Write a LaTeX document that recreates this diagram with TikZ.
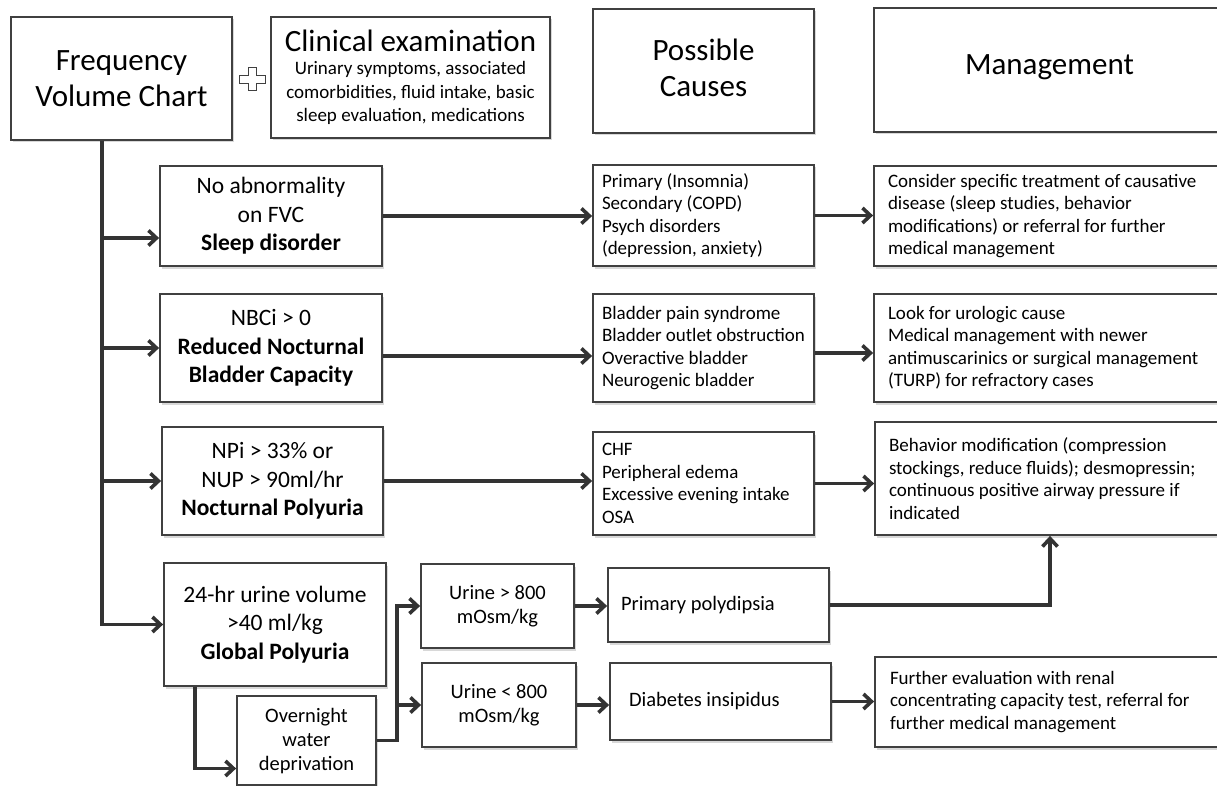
\documentclass[tikz,border=0pt]{standalone}
\usepackage{fontspec}
\setmainfont{Carlito}
\usetikzlibrary{
  arrows.meta,
  shadows
}
\tikzset{
  box/.style={draw=boxline,line width=1.8pt,fill=white,inner sep=0pt,
    drop shadow={shadow xshift=1.5pt,shadow yshift=-2.5pt,fill=black!30,opacity=.5}},
  box size/.style 2 args={minimum width=#1,minimum height=#2},
  head box/.style={box,align=center,font=\fontsize{31}{36}\selectfont},
  test box/.style={box,align=center,font=\fontsize{23.5}{28.5}\selectfont},
  small box/.style={box,align=center,font=\fontsize{20.5}{24}\selectfont},
  list box/.style={box,align=flush left,inner xsep=9pt,font=\fontsize{19}{22.5}\selectfont},
  flow/.style={draw=flowline,line width=3.6pt,-{Straight Barb[length=8pt,width=15pt]}},
}
\colorlet{boxline}{black!75}
\colorlet{flowline}{black!80}

\begin{document}
\begin{tikzpicture}[x=1pt,y=-1pt]
\useasboundingbox (0,0) rectangle (1217,786);
% top row
\node[head box,box size={221}{123}] (fvc) at (121.5,78.5) {Frequency\\Volume Chart};
\node[head box,box size={279}{121},font=\fontsize{19}{23.5}\selectfont] (clin) at (410.5,77.5)
  {{\fontsize{31}{36}\selectfont Clinical examination}\\[0pt]Urinary symptoms, associated\\
   comorbidities, fluid intake, basic\\sleep evaluation, medications};
\node[head box,box size={221}{124},text depth=7pt] (causes) at (703.5,71) {Possible\\Causes};
\node[head box,box size={351}{124},text depth=10pt] (mgmt) at (1049.5,70) {Management};
\draw[boxline,line width=1pt,fill=white] (248,68) -- (256,68) -- (256,76) -- (265,76)
  -- (265,84) -- (256,84) -- (256,91) -- (248,91) -- (248,84) -- (239,84)
  -- (239,76) -- (248,76) -- cycle;
% findings on the chart
\node[test box,box size={222}{100}] (sleep) at (271,216)
  {No abnormality\\on FVC\\\textbf{Sleep disorder}};
\node[test box,box size={222}{108}] (nbc) at (271,348)
  {NBCi > 0\\\textbf{Reduced Nocturnal}\\\textbf{Bladder Capacity}};
\node[test box,box size={221}{108}] (np) at (272.5,481)
  {NPi > 33\% or\\NUP > 90ml/hr\\\textbf{Nocturnal Polyuria}};
\node[test box,box size={222}{123}] (gp) at (275,624.5)
  {24-hr urine volume\\>40 ml/kg\\\textbf{Global Polyuria}};
\node[small box,box size={139}{89},text depth=2pt] (owd) at (306.5,740.5)
  {Overnight\\water\\deprivation};
\node[small box,box size={153}{84}] (uhigh) at (497.5,606) {Urine > 800\\mOsm/kg};
\node[small box,box size={154}{84}] (ulow) at (499,705) {Urine < 800\\mOsm/kg};
% possible causes
\node[list box,text width=203pt,minimum height=101] (sleepcause) at (703.5,215.5)
  {Primary (Insomnia)\\Secondary (COPD)\\Psych disorders\\(depression, anxiety)};
\node[list box,text width=203pt,minimum height=108] (nbccause) at (703.5,348)
  {Bladder pain syndrome\\Bladder outlet obstruction\\Overactive bladder\\Neurogenic bladder};
\node[list box,text width=203pt,minimum height=103] (npcause) at (703.5,483.5)
  {CHF\\Peripheral edema\\Excessive evening intake\\OSA};
\node[list box,font=\fontsize{20.5}{24}\selectfont,inner xsep=13pt,text width=195pt,
  minimum height=74] (polyd) at (718.5,605) {Primary polydipsia};
\node[list box,font=\fontsize{20.5}{24}\selectfont,inner xsep=19pt,text width=183pt,
  minimum height=77] (dinsip) at (720.5,701.5) {Diabetes insipidus};
% management
\node[list box,inner xsep=14pt,text width=323pt,minimum height=100] (sleepmgmt) at (1049.5,216)
  {Consider specific treatment of causative\\disease (sleep studies, behavior\\
   modifications) or referral for further\\medical management};
\node[list box,inner xsep=14pt,text width=323pt,minimum height=108] (nbcmgmt) at (1049.5,348)
  {Look for urologic cause\\Medical management with newer\\
   antimuscarinics or surgical management\\(TURP) for refractory cases};
\node[list box,inner xsep=14pt,text width=322pt,minimum height=113] (npmgmt) at (1050,478.5)
  {Behavior modification (compression\\stockings, reduce fluids); desmopressin;\\
   continuous positive airway pressure if\\indicated};
\node[list box,inner xsep=15pt,text width=320pt,minimum height=90] (dimgmt) at (1050,702)
  {Further evaluation with renal\\concentrating capacity test, referral for\\
   further medical management};
% connectors
\coordinate (split) at (102,624.5);
\coordinate (sleepin) at ([yshift=-22pt]sleep.west);
\draw[flow] (fvc.south -| split) -- (split) -- (gp.west);
\draw[flow] (split |- sleepin) -- (sleepin);
\draw[flow] (split |- nbc.west) -- (nbc.west);
\draw[flow] (split |- np.west) -- (np.west);
\draw[flow] (sleep.east) -- (sleep.east -| sleepcause.west);
\draw[flow] ([yshift=-8pt]nbc.east) -- ([yshift=-8pt]nbccause.west);
\draw[flow] (np.east) -- (np.east -| npcause.west);
\draw[flow] (sleepcause.east) -- (sleepcause.east -| sleepmgmt.west);
\draw[flow] ([yshift=-5pt]nbccause.east) -- ([yshift=-5pt]nbcmgmt.west);
\draw[flow] (npcause.east) -- (npcause.east -| npmgmt.west);
\draw[flow] ([xshift=-80pt]gp.south) |- ([yshift=-28pt]owd.west);
\draw[flow] (owd.east) -| ([xshift=-23pt]uhigh.west) -- (uhigh.west);
\draw[flow] ([xshift=-23pt]uhigh.west |- ulow.west) -- (ulow.west);
\draw[flow] (uhigh.east) -- (uhigh.east -| polyd.west);
\draw[flow] (ulow.east) -- (ulow.east -| dinsip.west);
\draw[flow] (polyd.east) -| (npmgmt.south);
\draw[flow] (dinsip.east) -- (dinsip.east -| dimgmt.west);
\end{tikzpicture}
\end{document}
